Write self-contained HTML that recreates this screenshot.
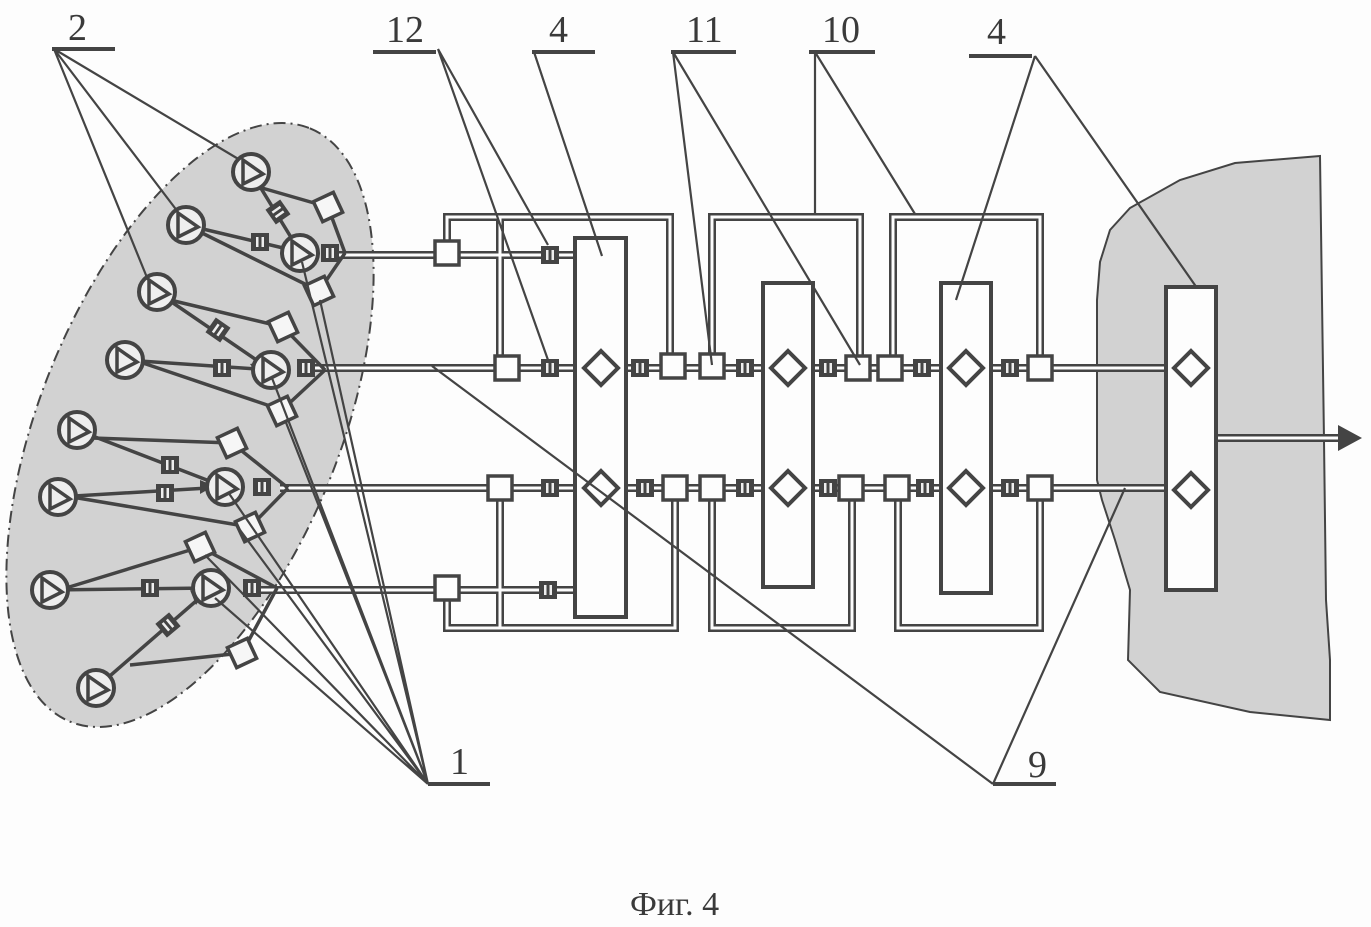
<!DOCTYPE html>
<html><head><meta charset="utf-8"><style>
html,body{margin:0;padding:0;background:#fdfdfd;}
svg{display:block;}
text{font-family:"Liberation Serif",serif;fill:#3a3a3a;}
</style></head><body>
<svg width="1371" height="927" viewBox="0 0 1371 927" xmlns="http://www.w3.org/2000/svg">
<defs>
<g id="pump"><circle r="18" fill="#eee" stroke="#444" stroke-width="4"/><polygon points="-8,-12 -8,12 12,2" fill="none" stroke="#444" stroke-width="3.5"/></g>
<g id="flt"><rect x="-9" y="-9" width="18" height="18" fill="#444"/><rect x="-4" y="-5" width="2.5" height="10" fill="#eee"/><rect x="1.5" y="-5" width="2.5" height="10" fill="#eee"/></g>
<g id="box"><rect x="-12" y="-12" width="24" height="24" fill="#fdfdfd" stroke="#444" stroke-width="3.5"/></g>
<g id="sq"><rect x="-11" y="-11" width="22" height="22" fill="#f6f6f6" stroke="#444" stroke-width="3.5"/></g>
<g id="dia"><polygon points="0,-17 17,0 0,17 -17,0" fill="#fdfdfd" stroke="#444" stroke-width="4"/></g>
<path id="pp" d="M330 255 H575 M310 368 H1165 M280 488 H1165 M260 590 H575 M447 255 V217 H670 V368 M500 217 V368 M447 590 V628 H675 V488 M500 488 V628 M712 368 V217 H860 V368 M712 488 V628 H852 V488 M893 368 V217 H1040 V368 M898 488 V628 H1040 V488 M1217 438 H1342"/>
</defs>

<!-- shaded regions -->
<ellipse cx="190" cy="425" rx="320" ry="150" transform="rotate(-68 190 425)" fill="#d2d2d2" stroke="#444" stroke-width="2" stroke-dasharray="12,5,2,5"/>
<path d="M1320 156 L1235 163 L1180 180 L1130 208 L1110 230 L1100 262 L1097 300 L1097 480 L1102 500 L1115 540 L1130 590 L1128 660 L1160 692 L1250 712 L1330 720 L1330 660 L1326 600 L1324 440 L1322 300 L1320 156 Z" fill="#d2d2d2" stroke="#444" stroke-width="2"/>

<!-- pipes -->
<g fill="none">
<use href="#pp" stroke="#444" stroke-width="8"/>
<use href="#pp" stroke="#fdfdfd" stroke-width="3"/>
</g>
<polygon points="1338,425 1362,438 1338,451" fill="#444"/>

<!-- blocks -->
<g fill="#fdfdfd" stroke="#444" stroke-width="4">
<rect x="575" y="238" width="51" height="379"/>
<rect x="763" y="283" width="50" height="304"/>
<rect x="941" y="283" width="50" height="310"/>
<rect x="1166" y="287" width="50" height="303"/>
</g>
<use href="#dia" x="601" y="368"/><use href="#dia" x="601" y="488"/>
<use href="#dia" x="788" y="368"/><use href="#dia" x="788" y="488"/>
<use href="#dia" x="966" y="368"/><use href="#dia" x="966" y="488"/>
<use href="#dia" x="1191" y="368"/><use href="#dia" x="1191" y="490"/>

<!-- boxes -->
<use href="#box" x="447" y="253"/><use href="#box" x="507" y="368"/><use href="#box" x="673" y="366"/><use href="#box" x="712" y="366"/><use href="#box" x="858" y="368"/><use href="#box" x="890" y="368"/><use href="#box" x="1040" y="368"/>
<use href="#box" x="500" y="488"/><use href="#box" x="675" y="488"/><use href="#box" x="712" y="488"/><use href="#box" x="851" y="488"/><use href="#box" x="897" y="488"/><use href="#box" x="1040" y="488"/>
<use href="#box" x="447" y="588"/>
<!-- filters -->
<use href="#flt" x="550" y="255"/>
<use href="#flt" x="550" y="368"/><use href="#flt" x="640" y="368"/><use href="#flt" x="745" y="368"/><use href="#flt" x="828" y="368"/><use href="#flt" x="922" y="368"/><use href="#flt" x="1010" y="368"/>
<use href="#flt" x="550" y="488"/><use href="#flt" x="645" y="488"/><use href="#flt" x="745" y="488"/><use href="#flt" x="828" y="488"/><use href="#flt" x="925" y="488"/><use href="#flt" x="1010" y="488"/>
<use href="#flt" x="548" y="590"/>

<!-- ellipse internals -->
<g stroke="#444" stroke-width="3.5" fill="none">
<path d="M251 172 L300 252 M186 225 L300 252 M157 292 L271 370 M125 360 L271 370 M77 430 L225 487 M58 497 L225 487 M50 590 L211 588 M96 688 L211 588"/>
<path d="M262 188 L328 207 M345 253 L328 207 M345 253 L319 291 M200 232 L319 291"/>
<path d="M170 300 L283 327 M325 370 L283 327 M325 370 L282 410 M140 362 L282 410"/>
<path d="M92 438 L232 443 M288 488 L232 443 M288 488 L250 527 M72 497 L250 527"/>
<path d="M66 588 L200 547 M277 588 L200 547 M277 588 L242 653 M130 665 L242 653"/>
</g>
<g fill="#444">
<polygon points="290,244 303,240 300,253" />
<polygon points="282,244 296,250 282,258"/>
<polygon points="256,360 270,368 256,374"/>
<polygon points="250,364 262,362 258,375"/>
<polygon points="208,476 222,487 206,490"/>
<polygon points="200,480 214,486 200,494"/>
<polygon points="193,582 207,588 193,595"/>
<polygon points="190,590 203,595 196,605"/>
</g>
<use href="#flt" x="278" y="212" transform="rotate(55 278 212)"/>
<use href="#flt" x="260" y="242"/>
<use href="#flt" x="218" y="330" transform="rotate(35 218 330)"/>
<use href="#flt" x="222" y="368"/>
<use href="#flt" x="170" y="465"/>
<use href="#flt" x="165" y="493"/>
<use href="#flt" x="150" y="588"/>
<use href="#flt" x="168" y="625" transform="rotate(-40 168 625)"/>
<use href="#flt" x="330" y="253"/><use href="#flt" x="306" y="368"/><use href="#flt" x="262" y="487"/><use href="#flt" x="252" y="588"/>
<use href="#sq" x="328" y="207" transform="rotate(-25 328 207)"/><use href="#sq" x="319" y="291" transform="rotate(-25 319 291)"/>
<use href="#sq" x="283" y="327" transform="rotate(-25 283 327)"/><use href="#sq" x="282" y="411" transform="rotate(-25 282 411)"/>
<use href="#sq" x="232" y="443" transform="rotate(-25 232 443)"/><use href="#sq" x="250" y="527" transform="rotate(-25 250 527)"/>
<use href="#sq" x="200" y="547" transform="rotate(-25 200 547)"/><use href="#sq" x="242" y="653" transform="rotate(-25 242 653)"/>
<use href="#pump" x="251" y="172"/><use href="#pump" x="186" y="225"/><use href="#pump" x="157" y="292"/><use href="#pump" x="125" y="360"/>
<use href="#pump" x="77" y="430"/><use href="#pump" x="58" y="497"/><use href="#pump" x="50" y="590"/><use href="#pump" x="96" y="688"/>
<use href="#pump" x="300" y="253"/><use href="#pump" x="271" y="370"/><use href="#pump" x="225" y="487"/><use href="#pump" x="211" y="588"/>

<!-- leader lines -->
<g stroke="#444" stroke-width="2.2" fill="none">
<path d="M54 49 L240 160 M54 49 L178 212 M54 49 L148 280"/>
<path d="M438 49 L548 245 M438 49 L548 360"/>
<path d="M534 52 L602 256"/>
<path d="M673 52 L712 365 M673 52 L860 365"/>
<path d="M815 52 L815 214 M815 52 L915 214"/>
<path d="M1035 56 L956 300 M1035 56 L1197 288"/>
<path d="M428 784 L302 262 M428 784 L320 300 M428 784 L272 378 M428 784 L285 420 M428 784 L228 492 M428 784 L240 530 M428 784 L215 598 M428 784 L205 555"/>
<path d="M993 784 L432 366 M993 784 L1125 488"/>
</g>
<!-- label underlines -->
<g stroke="#444" stroke-width="4">
<path d="M52 49 H115 M373 52 H436 M532 52 H595 M671 52 H736 M809 52 H875 M969 56 H1032 M428 784 H490 M993 784 H1056"/>
</g>
<g font-size="38">
<text x="68" y="40">2</text>
<text x="386" y="42">12</text>
<text x="549" y="42">4</text>
<text x="686" y="42">11</text>
<text x="822" y="42">10</text>
<text x="987" y="44">4</text>
<text x="450" y="774">1</text>
<text x="1028" y="777">9</text>
</g>
<text x="630" y="915" font-size="34">Фиг. 4</text>
</svg>
</body></html>
